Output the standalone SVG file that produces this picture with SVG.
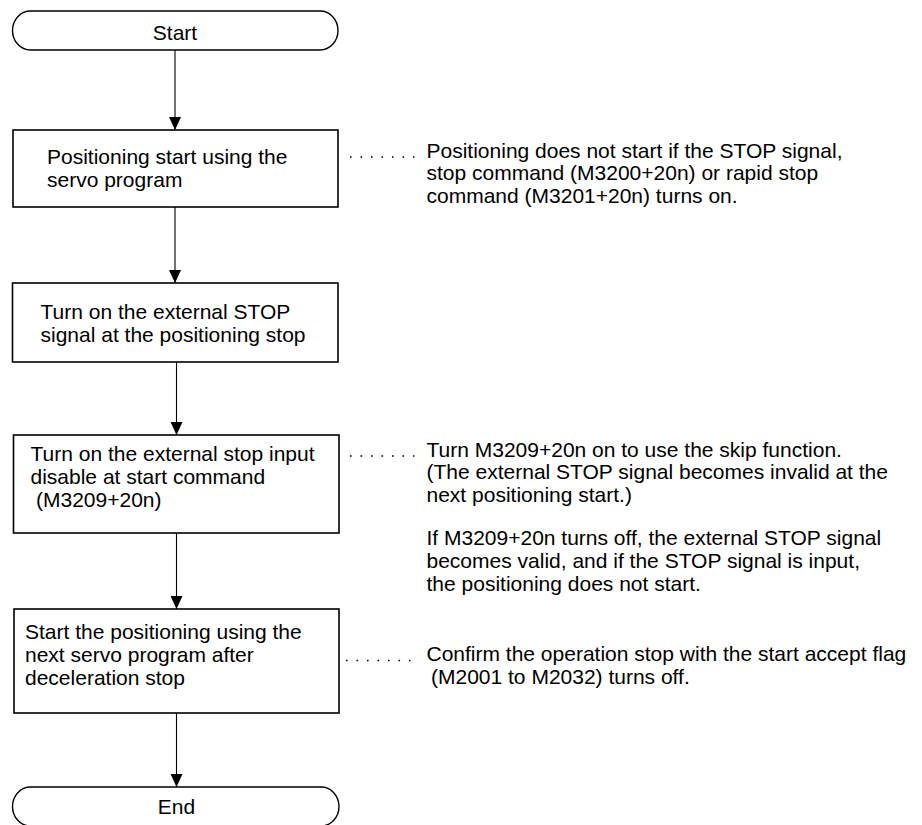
<svg xmlns="http://www.w3.org/2000/svg" width="922" height="825" viewBox="0 0 922 825">
<defs>
<style>
text{font-family:"Liberation Sans",Arial,sans-serif;font-size:21px;fill:#000}
.box{fill:#fff;stroke:#000;stroke-width:1.6}
.term{fill:#fff;stroke:#000;stroke-width:1.4}
.conn{stroke:#000;stroke-width:1.1;fill:none}
.dots{stroke:#000;stroke-width:1.6;fill:none;stroke-dasharray:1.6 8.9}
</style>
<marker id="arr" viewBox="0 0 13 12" refX="13" refY="6" markerWidth="13" markerHeight="12" markerUnits="userSpaceOnUse" orient="auto">
<path d="M0 0 L13 6 L0 12 Z" fill="#000"/>
</marker>
</defs>
<rect width="922" height="825" fill="#fff"/>
<g id="connectors">
<line class="conn" x1="175" y1="50" x2="175" y2="130" marker-end="url(#arr)"/>
<line class="conn" x1="175" y1="207" x2="175" y2="283" marker-end="url(#arr)"/>
<line class="conn" x1="176.5" y1="362" x2="176.5" y2="435" marker-end="url(#arr)"/>
<line class="conn" x1="176.5" y1="533" x2="176.5" y2="609" marker-end="url(#arr)"/>
<line class="conn" x1="176.5" y1="713" x2="176.5" y2="787" marker-end="url(#arr)"/>
</g>
<g id="start">
<rect class="term" x="12.5" y="11" width="325.5" height="39" rx="18" ry="19.5"/>
<text x="175" y="39.5" text-anchor="middle">Start</text>
</g>
<g id="step1">
<rect class="box" x="13" y="130" width="325" height="77"/>
<text x="47" y="163.5">Positioning start using the</text>
<text x="47" y="187">servo program</text>
</g>
<g id="step2">
<rect class="box" x="12.5" y="283" width="325.5" height="79"/>
<text x="40.5" y="318.5">Turn on the external STOP</text>
<text x="40.5" y="342">signal at the positioning stop</text>
</g>
<g id="step3">
<rect class="box" x="13.5" y="435" width="325.5" height="98"/>
<text x="30.5" y="461">Turn on the external stop input</text>
<text x="30.5" y="484">disable at start command</text>
<text x="36" y="507">(M3209+20n)</text>
</g>
<g id="step4">
<rect class="box" x="14" y="609" width="325" height="104"/>
<text x="25" y="639">Start the positioning using the</text>
<text x="25" y="662">next servo program after</text>
<text x="25" y="685">deceleration stop</text>
</g>
<g id="end">
<rect class="term" x="12.5" y="787" width="326.5" height="39" rx="18" ry="19.5"/>
<text x="176.5" y="813.5" text-anchor="middle">End</text>
</g>
<g id="note1">
<path class="dots" d="M350 157 H414.5"/>
<text x="426.5" y="157.5">Positioning does not start if the STOP signal,</text>
<text x="426.5" y="180.2">stop command (M3200+20n) or rapid stop</text>
<text x="426.5" y="203">command (M3201+20n) turns on.</text>
</g>
<g id="note2">
<path class="dots" d="M350 456 H414.5"/>
<text x="426.5" y="456.5">Turn M3209+20n on to use the skip function.</text>
<text x="426.5" y="479.2">(The external STOP signal becomes invalid at the</text>
<text x="426.5" y="502">next positioning start.)</text>
<text x="426.5" y="545">If M3209+20n turns off, the external STOP signal</text>
<text x="426.5" y="567.7">becomes valid, and if the STOP signal is input,</text>
<text x="426.5" y="590.5">the positioning does not start.</text>
</g>
<g id="note3">
<path class="dots" d="M346 660.5 H410.5"/>
<text x="426.5" y="661">Confirm the operation stop with the start accept flag</text>
<text x="431" y="684">(M2001 to M2032) turns off.</text>
</g>
</svg>
